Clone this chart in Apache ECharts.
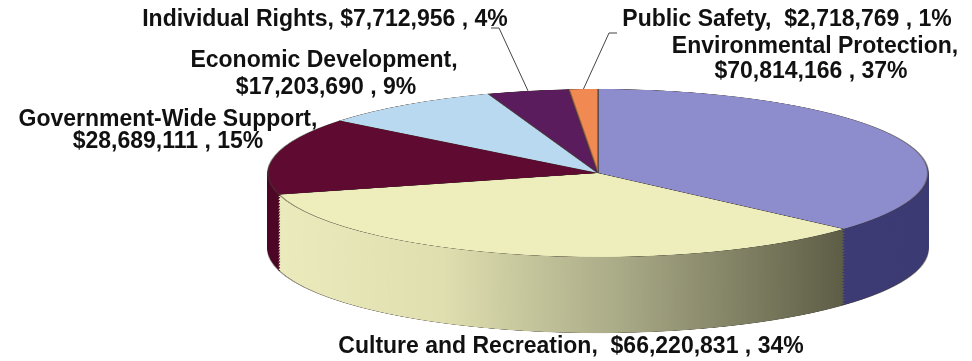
<!DOCTYPE html>
<html>
<head>
<meta charset="utf-8">
<title>Expenditures by function</title>
<script src="https://cdn.jsdelivr.net/npm/echarts@6/dist/echarts.min.js"></script>
<style>
html, body { margin: 0; padding: 0; background: #fff; }
#stage { position: relative; width: 972px; height: 361px; overflow: hidden; }
#pie { position: absolute; left: 0; top: 0; width: 972px; transform-origin: 0 0; }
#labels { position: absolute; left: 0; top: 0; width: 972px; height: 361px; }
</style>
</head>
<body>
<div id="stage">
  <div id="pie"></div>
  <div id="labels"></div>
</div>
<script>
// data (clockwise from 12 o'clock)
const categories = [
  'Environmental Protection',
  'Culture and Recreation',
  'Government-Wide Support',
  'Economic Development',
  'Individual Rights',
  'Public Safety'
]
const amounts = [70814166, 66220831, 28689111, 17203690, 7712956, 2718769]

// how the name is joined to the amount in each label
const labelJoin = ['\n', '  ', '\n', '\n', ' ', '  ']

// geometry of the tilted pie (screen pixels)
const CX = 598, CY = 173, RX = 330, RY = 84, DEPTH = 76
const SQUASH = RY / RX
const LAYERS = 50

const topColors = ['#8d8ccd', '#eeeebd', '#5f0a30', '#b8d9ef', '#5a1c5c', '#f08a52']
const sideColors = [
  '#3c3b74',
  { type: 'linear', x: 270, y: 0, x2: 845, y2: 0, global: true,
    colorStops: [
      { offset: 0, color: '#ebebbd' },
      { offset: 0.3, color: '#dfdfb0' },
      { offset: 0.6, color: '#abac88' },
      { offset: 1, color: '#5d5d46' }
    ] },
  '#4e0726',
  '#7f9fb5',
  '#3d0f40',
  '#b5602f'
]

const total = amounts.reduce((a, b) => a + b, 0)
const pct = v => Math.round(v / total * 100)
const money = v => '$' + v.toLocaleString('en-US')

// ---- pie: stacked pie layers inside a vertically squashed box ----
const pieBox = document.getElementById('pie')
const boxH = Math.ceil(361 / SQUASH)
pieBox.style.height = boxH + 'px'
pieBox.style.transform = 'scaleY(' + SQUASH + ')'

// kind: 'top' (face with outline), 'side' (wall slice), 'base' (lowest wall with outline)
const layer = (cy, colors, kind) => ({
  type: 'pie',
  silent: true,
  center: [CX, cy],
  radius: RX,
  startAngle: 90,
  clockwise: true,
  label: { show: false },
  labelLine: { show: false },
  emphasis: { disabled: true },
  data: categories.map((name, i) => ({
    name,
    value: amounts[i],
    itemStyle: kind === 'side'
      ? { color: colors[i], borderColor: colors[i], borderWidth: 1.5 }
      : { color: colors[i], borderColor: 'rgba(70,60,50,0.5)', borderWidth: 2 }
  }))
})

const series = []
for (let k = LAYERS; k >= 1; k--) {
  series.push(layer((CY + DEPTH * k / LAYERS) / SQUASH, sideColors, k === LAYERS ? 'base' : 'side'))
}
series.push(layer(CY / SQUASH, topColors, 'top'))

const pieChart = echarts.init(pieBox)
pieChart.setOption({ animation: false, series })

// ---- labels + leader lines ----
const labelPos = [
  [[815, 47], [811, 72]],
  [[571, 347]],
  [[168, 120], [168, 142]],
  [[324, 61], [326, 88]],
  [[325, 20]],
  [[787, 20]]
]
// label end of the leader lines (small slices only)
const leaderStart = { 4: [[491, 28], [499, 28]], 5: [[617, 33], [609, 33]] }

const graphic = []
categories.forEach((name, i) => {
  const text = name + ',' + labelJoin[i] + money(amounts[i]) + ' , ' + pct(amounts[i]) + '%'
  text.split('\n').forEach((line, j) => {
    graphic.push({
      type: 'text',
      x: labelPos[i][j][0],
      y: labelPos[i][j][1],
      style: {
        text: line,
        fill: '#111',
        fontFamily: "'Liberation Sans Narrow', 'Arial Narrow', 'Liberation Sans', Arial, sans-serif",
        fontWeight: 'bold',
        fontSize: 23,
        align: 'center',
        verticalAlign: 'middle'
      }
    })
  })
})

let cum = 0
amounts.forEach((v, i) => {
  const mid = (cum + v / 2) / total
  cum += v
  if (!leaderStart[i]) return
  const a = -Math.PI / 2 + 2 * Math.PI * mid
  const edge = [CX + RX * Math.cos(a), CY + RY * Math.sin(a)]
  graphic.push({
    type: 'polyline',
    shape: { points: leaderStart[i].concat([edge]) },
    style: { stroke: '#444', lineWidth: 1, fill: null }
  })
})

const labelChart = echarts.init(document.getElementById('labels'))
labelChart.setOption({ backgroundColor: 'transparent', graphic })
</script>
</body>
</html>
